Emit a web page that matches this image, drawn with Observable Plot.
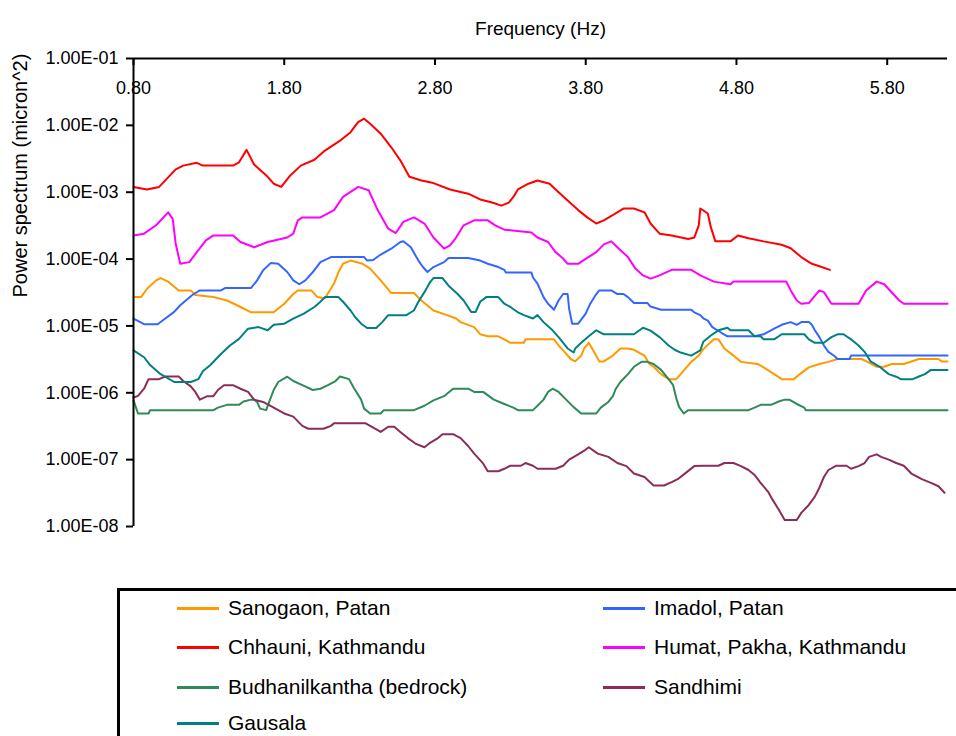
<!DOCTYPE html>
<html>
<head>
<meta charset="utf-8">
<script src="https://cdn.jsdelivr.net/npm/d3@7"></script>
<script src="https://cdn.jsdelivr.net/npm/@observablehq/plot@0.6"></script>
<style>
  html, body { margin: 0; padding: 0; background: #fff; overflow: hidden; }
  body { width: 956px; height: 736px; position: relative; font-family: "Liberation Sans", Arial, sans-serif; }
  #chart { position: absolute; left: 0; top: 0; }
  #legend { position: absolute; left: 117px; top: 588px; width: 900px; height: 200px; border: 3px solid #000; box-sizing: border-box; }
  .item { position: absolute; display: flex; align-items: center; height: 24px; font-size: 21px; color: #000; white-space: nowrap; }
  .sw { width: 42px; height: 3px; margin-right: 9px; }
</style>
</head>
<body>
<div id="chart"></div>
<div id="legend"></div>
<script>
// ---- data ----
const sites = ["Sanogaon, Patan", "Imadol, Patan", "Chhauni, Kathmandu", "Humat, Pakha, Kathmandu", "Budhanilkantha (bedrock)", "Sandhimi", "Gausala"];
const siteColors = ["#ff9900", "#3366ff", "#ff0000", "#ff00ff", "#2e8b57", "#8b2c5b", "#008080"];

const xTicks = [0.8, 1.8, 2.8, 3.8, 4.8, 5.8];
const xTickLabels = ["0.80", "1.80", "2.80", "3.80", "4.80", "5.80"];
const yTicks = [1e-8, 1e-7, 1e-6, 1e-5, 1e-4, 1e-3, 1e-2, 1e-1];
const yTickLabels = ["1.00E-08", "1.00E-07", "1.00E-06", "1.00E-05", "1.00E-04", "1.00E-03", "1.00E-02", "1.00E-01"];

// [frequency (Hz), power spectrum (micron^2)]
const sanogaon = [[0.80,2.7e-5],[0.85,2.7e-5],[0.89,3.6e-5],[0.95,4.8e-5],[0.98,5.2e-5],[1.03,4.6e-5],[1.10,3.4e-5],[1.18,3.4e-5],[1.21,2.9e-5],[1.33,2.7e-5],[1.42,2.4e-5],[1.51,1.92e-5],[1.58,1.6e-5],[1.73,1.6e-5],[1.80,2.15e-5],[1.86,3.0e-5],[1.89,3.4e-5],[1.98,3.4e-5],[2.02,2.7e-5],[2.07,2.6e-5],[2.13,4.3e-5],[2.16,6.4e-5],[2.19,8.5e-5],[2.24,9.5e-5],[2.32,8.5e-5],[2.37,7.2e-5],[2.44,4.8e-5],[2.51,3.1e-5],[2.66,3.1e-5],[2.71,2.4e-5],[2.79,1.7e-5],[2.88,1.45e-5],[2.94,1.29e-5],[2.97,1.14e-5],[3.06,9.6e-6],[3.10,7.5e-6],[3.15,7.0e-6],[3.22,7.0e-6],[3.26,6.3e-6],[3.30,5.6e-6],[3.39,5.6e-6],[3.40,6.3e-6],[3.59,6.3e-6],[3.62,5.1e-6],[3.66,4.1e-6],[3.70,3.2e-6],[3.73,2.95e-6],[3.77,3.6e-6],[3.79,4.6e-6],[3.82,5.6e-6],[3.85,4.3e-6],[3.89,2.95e-6],[3.92,2.95e-6],[3.98,3.6e-6],[4.03,4.6e-6],[4.08,4.6e-6],[4.12,4.4e-6],[4.19,3.6e-6],[4.22,2.75e-6],[4.25,2.45e-6],[4.30,1.9e-6],[4.35,1.6e-6],[4.40,1.6e-6],[4.43,1.9e-6],[4.50,2.9e-6],[4.55,3.6e-6],[4.58,4.5e-6],[4.65,6.3e-6],[4.68,6.3e-6],[4.72,4.6e-6],[4.78,3.6e-6],[4.83,2.9e-6],[4.94,2.7e-6],[4.98,2.4e-6],[5.05,1.9e-6],[5.10,1.6e-6],[5.18,1.6e-6],[5.22,1.9e-6],[5.28,2.4e-6],[5.35,2.7e-6],[5.41,2.9e-6],[5.47,3.2e-6],[5.63,3.2e-6],[5.67,2.9e-6],[5.73,2.45e-6],[5.78,2.45e-6],[5.83,2.7e-6],[5.91,2.7e-6],[6.01,3.2e-6],[6.14,3.2e-6],[6.16,2.95e-6],[6.20,2.95e-6]];

const imadol = [[0.80,1.29e-5],[0.87,1.06e-5],[0.96,1.06e-5],[1.00,1.24e-5],[1.07,1.62e-5],[1.11,2.04e-5],[1.19,2.9e-5],[1.24,3.4e-5],[1.38,3.4e-5],[1.41,3.7e-5],[1.58,3.7e-5],[1.62,4.8e-5],[1.66,6.8e-5],[1.71,8.7e-5],[1.76,8.5e-5],[1.82,6.4e-5],[1.86,4.8e-5],[1.90,4.2e-5],[1.94,4.8e-5],[1.99,6.4e-5],[2.04,9.0e-5],[2.11,1.07e-4],[2.33,1.07e-4],[2.35,9.5e-5],[2.39,9.7e-5],[2.44,1.17e-4],[2.51,1.43e-4],[2.57,1.8e-4],[2.59,1.85e-4],[2.64,1.5e-4],[2.69,9.5e-5],[2.72,7.6e-5],[2.75,6.4e-5],[2.79,7.6e-5],[2.86,9.0e-5],[2.89,1.04e-4],[3.02,1.04e-4],[3.10,9.5e-5],[3.15,8.5e-5],[3.22,7.6e-5],[3.26,6.9e-5],[3.27,6.3e-5],[3.44,6.3e-5],[3.45,5.3e-5],[3.48,4.3e-5],[3.52,2.7e-5],[3.55,2.15e-5],[3.59,1.75e-5],[3.62,2.4e-5],[3.65,3.0e-5],[3.68,3.0e-5],[3.69,1.8e-5],[3.71,1.08e-5],[3.75,1.08e-5],[3.80,1.53e-5],[3.83,2.15e-5],[3.87,3.0e-5],[3.89,3.4e-5],[3.97,3.4e-5],[4.01,3.0e-5],[4.05,3.0e-5],[4.08,2.7e-5],[4.12,2.2e-5],[4.21,2.2e-5],[4.23,1.95e-5],[4.30,1.75e-5],[4.50,1.75e-5],[4.52,1.6e-5],[4.56,1.45e-5],[4.58,1.3e-5],[4.61,1.2e-5],[4.64,9.6e-6],[4.70,7.9e-6],[4.74,7.0e-6],[4.92,7.0e-6],[4.98,7.5e-6],[5.05,9.1e-6],[5.10,1.04e-5],[5.16,1.14e-5],[5.20,1.04e-5],[5.23,1.14e-5],[5.28,1.14e-5],[5.30,1.04e-5],[5.32,8.6e-6],[5.35,6.8e-6],[5.38,5.1e-6],[5.41,4.1e-6],[5.45,3.55e-6],[5.47,3.2e-6],[5.55,3.2e-6],[5.56,3.6e-6],[6.20,3.6e-6]];

const chhauni = [[0.80,1.2e-3],[0.89,1.1e-3],[0.97,1.2e-3],[1.08,2.2e-3],[1.13,2.5e-3],[1.22,2.75e-3],[1.26,2.5e-3],[1.46,2.5e-3],[1.50,2.8e-3],[1.55,4.3e-3],[1.60,2.6e-3],[1.69,1.7e-3],[1.73,1.34e-3],[1.78,1.2e-3],[1.84,1.78e-3],[1.91,2.5e-3],[2.00,3.06e-3],[2.07,4.2e-3],[2.17,5.9e-3],[2.24,7.9e-3],[2.29,1.12e-2],[2.33,1.26e-2],[2.37,1.06e-2],[2.44,7.5e-3],[2.51,4.7e-3],[2.57,3.0e-3],[2.63,1.7e-3],[2.71,1.5e-3],[2.79,1.37e-3],[2.90,1.1e-3],[3.02,9.5e-4],[3.10,7.8e-4],[3.18,7.0e-4],[3.24,6.3e-4],[3.29,7.0e-4],[3.32,8.5e-4],[3.35,1.1e-3],[3.42,1.34e-3],[3.48,1.5e-3],[3.56,1.34e-3],[3.62,1.0e-3],[3.68,7.5e-4],[3.75,5.4e-4],[3.81,4.2e-4],[3.87,3.4e-4],[3.92,3.8e-4],[3.99,4.7e-4],[4.05,5.7e-4],[4.12,5.7e-4],[4.19,5.0e-4],[4.23,3.4e-4],[4.29,2.4e-4],[4.37,2.25e-4],[4.48,2.0e-4],[4.52,2.1e-4],[4.55,3.2e-4],[4.56,5.7e-4],[4.61,4.8e-4],[4.63,3.0e-4],[4.66,1.84e-4],[4.76,1.84e-4],[4.81,2.25e-4],[4.88,2.05e-4],[4.98,1.84e-4],[5.10,1.64e-4],[5.16,1.45e-4],[5.23,1.07e-4],[5.30,8.5e-5],[5.35,7.8e-5],[5.42,6.9e-5]];

const humat = [[0.80,2.26e-4],[0.87,2.4e-4],[0.95,3.2e-4],[1.03,5.0e-4],[1.06,4.0e-4],[1.08,1.7e-4],[1.11,8.5e-5],[1.17,9.0e-5],[1.22,1.27e-4],[1.28,1.9e-4],[1.33,2.26e-4],[1.46,2.26e-4],[1.51,1.8e-4],[1.60,1.5e-4],[1.69,1.8e-4],[1.82,2.1e-4],[1.86,2.4e-4],[1.89,3.8e-4],[1.92,4.2e-4],[2.04,4.2e-4],[2.13,5.4e-4],[2.19,8.5e-4],[2.29,1.2e-3],[2.36,1.07e-3],[2.42,5.4e-4],[2.49,2.85e-4],[2.54,2.45e-4],[2.59,3.6e-4],[2.66,4.2e-4],[2.73,3.4e-4],[2.79,2.1e-4],[2.86,1.43e-4],[2.90,1.6e-4],[2.94,2.1e-4],[2.99,3.2e-4],[3.06,3.8e-4],[3.15,3.8e-4],[3.20,3.2e-4],[3.26,2.75e-4],[3.44,2.5e-4],[3.48,2.1e-4],[3.55,1.8e-4],[3.60,1.27e-4],[3.65,1.02e-4],[3.68,8.5e-5],[3.75,8.5e-5],[3.81,1.04e-4],[3.87,1.27e-4],[3.92,1.66e-4],[3.97,1.84e-4],[4.01,1.5e-4],[4.08,1.07e-4],[4.13,7.2e-5],[4.18,5.7e-5],[4.23,5.1e-5],[4.29,5.7e-5],[4.37,6.9e-5],[4.50,6.9e-5],[4.56,5.7e-5],[4.65,4.6e-5],[4.76,4.2e-5],[4.78,4.6e-5],[5.13,4.6e-5],[5.16,3.4e-5],[5.20,2.4e-5],[5.23,2.15e-5],[5.28,2.2e-5],[5.35,3.4e-5],[5.38,3.2e-5],[5.43,2.15e-5],[5.61,2.15e-5],[5.66,3.4e-5],[5.73,4.6e-5],[5.78,4.2e-5],[5.84,3.0e-5],[5.88,2.4e-5],[5.91,2.15e-5],[6.20,2.15e-5]];

const budhanilkantha = [[0.80,7.7e-7],[0.83,4.9e-7],[0.90,4.9e-7],[0.91,5.5e-7],[1.33,5.5e-7],[1.36,6.0e-7],[1.42,6.6e-7],[1.50,6.6e-7],[1.53,7.4e-7],[1.58,7.9e-7],[1.60,7.9e-7],[1.62,7.3e-7],[1.64,5.8e-7],[1.68,5.5e-7],[1.70,7.3e-7],[1.73,1.1e-6],[1.76,1.45e-6],[1.82,1.74e-6],[1.86,1.5e-6],[1.92,1.3e-6],[1.99,1.1e-6],[2.04,1.15e-6],[2.09,1.3e-6],[2.14,1.5e-6],[2.17,1.75e-6],[2.23,1.6e-6],[2.26,1.2e-6],[2.31,7.9e-7],[2.33,5.8e-7],[2.37,4.9e-7],[2.44,4.9e-7],[2.46,5.5e-7],[2.66,5.5e-7],[2.73,6.4e-7],[2.79,7.7e-7],[2.86,8.9e-7],[2.92,1.15e-6],[3.02,1.15e-6],[3.06,1.03e-6],[3.12,1.03e-6],[3.19,7.9e-7],[3.26,6.8e-7],[3.32,6.0e-7],[3.35,5.5e-7],[3.45,5.5e-7],[3.48,6.4e-7],[3.52,7.9e-7],[3.55,1.03e-6],[3.58,1.15e-6],[3.62,1.03e-6],[3.67,7.9e-7],[3.72,6.1e-7],[3.77,4.9e-7],[3.87,4.9e-7],[3.90,6.0e-7],[3.95,7.3e-7],[3.98,8.9e-7],[4.00,1.15e-6],[4.03,1.45e-6],[4.08,1.9e-6],[4.12,2.45e-6],[4.17,2.9e-6],[4.21,2.9e-6],[4.25,2.7e-6],[4.30,2.2e-6],[4.35,1.6e-6],[4.38,1.3e-6],[4.40,8.4e-7],[4.42,6.1e-7],[4.45,4.9e-7],[4.48,5.5e-7],[4.88,5.5e-7],[4.92,6.0e-7],[4.96,6.6e-7],[5.03,6.6e-7],[5.08,7.4e-7],[5.12,7.9e-7],[5.15,7.9e-7],[5.20,6.8e-7],[5.25,6.0e-7],[5.26,5.5e-7],[6.20,5.5e-7]];

const sandhimi = [[0.80,8.5e-7],[0.83,9e-7],[0.87,1.15e-6],[0.90,1.6e-6],[0.97,1.6e-6],[1.01,1.75e-6],[1.10,1.75e-6],[1.13,1.5e-6],[1.18,1.25e-6],[1.21,1.03e-6],[1.24,7.9e-7],[1.29,8.9e-7],[1.33,8.9e-7],[1.36,1.1e-6],[1.40,1.3e-6],[1.46,1.3e-6],[1.51,1.15e-6],[1.56,1.03e-6],[1.60,7.9e-7],[1.66,7.3e-7],[1.73,6.0e-7],[1.80,4.9e-7],[1.86,4.4e-7],[1.92,3.2e-7],[1.96,2.9e-7],[2.06,2.9e-7],[2.11,3.2e-7],[2.13,3.5e-7],[2.34,3.5e-7],[2.37,3.2e-7],[2.44,2.6e-7],[2.49,3.1e-7],[2.53,3.1e-7],[2.57,2.6e-7],[2.62,2.1e-7],[2.67,1.74e-7],[2.73,1.53e-7],[2.77,1.8e-7],[2.82,2.1e-7],[2.85,2.4e-7],[2.92,2.4e-7],[2.97,2.1e-7],[3.02,1.6e-7],[3.06,1.23e-7],[3.08,1.1e-7],[3.12,8.7e-8],[3.15,6.7e-8],[3.22,6.7e-8],[3.26,7.3e-8],[3.30,8.1e-8],[3.37,8.1e-8],[3.40,8.9e-8],[3.45,8.1e-8],[3.48,7.3e-8],[3.60,7.3e-8],[3.65,8.1e-8],[3.69,1.0e-7],[3.75,1.2e-7],[3.79,1.36e-7],[3.82,1.53e-7],[3.88,1.23e-7],[3.95,1.1e-7],[4.01,8.9e-8],[4.07,8.0e-8],[4.12,6.2e-8],[4.19,5.5e-8],[4.25,4.1e-8],[4.32,4.1e-8],[4.37,4.6e-8],[4.41,5.1e-8],[4.47,6.5e-8],[4.52,8.0e-8],[4.58,8.1e-8],[4.68,8.1e-8],[4.72,8.9e-8],[4.78,8.9e-8],[4.83,8.0e-8],[4.88,7.0e-8],[4.92,5.9e-8],[4.96,4.5e-8],[5.01,3.3e-8],[5.04,2.5e-8],[5.08,1.8e-8],[5.12,1.25e-8],[5.20,1.25e-8],[5.23,1.6e-8],[5.28,2.1e-8],[5.32,2.8e-8],[5.35,3.8e-8],[5.38,5.5e-8],[5.41,7.0e-8],[5.46,8.1e-8],[5.53,8.1e-8],[5.56,7.3e-8],[5.61,8.0e-8],[5.65,8.9e-8],[5.68,1.1e-7],[5.73,1.2e-7],[5.76,1.1e-7],[5.81,1.0e-7],[5.86,8.9e-8],[5.91,8.1e-8],[5.96,6.2e-8],[6.03,5.1e-8],[6.09,4.5e-8],[6.14,4.0e-8],[6.18,3.2e-8]];

const gausala = [[0.80,4.3e-6],[0.87,3.4e-6],[0.91,2.6e-6],[0.98,1.9e-6],[1.07,1.45e-6],[1.18,1.45e-6],[1.23,1.6e-6],[1.26,2.1e-6],[1.31,2.6e-6],[1.38,3.8e-6],[1.44,5.1e-6],[1.50,6.4e-6],[1.56,9.1e-6],[1.63,9.6e-6],[1.69,8.6e-6],[1.73,1.04e-5],[1.80,1.08e-5],[1.86,1.29e-5],[1.93,1.53e-5],[2.00,1.92e-5],[2.04,2.3e-5],[2.07,2.7e-5],[2.16,2.7e-5],[2.19,2.3e-5],[2.24,1.7e-5],[2.27,1.36e-5],[2.31,1.08e-5],[2.35,9.3e-6],[2.41,9.3e-6],[2.45,1.14e-5],[2.49,1.45e-5],[2.61,1.45e-5],[2.66,1.7e-5],[2.69,2.3e-5],[2.73,3.2e-5],[2.77,4.6e-5],[2.79,5.2e-5],[2.85,5.2e-5],[2.89,4.0e-5],[2.95,3.0e-5],[2.99,2.4e-5],[3.04,1.62e-5],[3.07,1.62e-5],[3.10,2.3e-5],[3.14,2.7e-5],[3.22,2.7e-5],[3.26,2.15e-5],[3.30,1.92e-5],[3.35,1.6e-5],[3.39,1.45e-5],[3.45,1.29e-5],[3.48,1.45e-5],[3.52,1.14e-5],[3.58,8.6e-6],[3.62,6.8e-6],[3.68,4.6e-6],[3.72,4.0e-6],[3.73,4.6e-6],[3.77,5.6e-6],[3.82,7.0e-6],[3.87,8.6e-6],[3.92,7.5e-6],[4.12,7.5e-6],[4.18,9.4e-6],[4.23,8.5e-6],[4.29,6.8e-6],[4.35,5.1e-6],[4.39,4.4e-6],[4.43,4.0e-6],[4.50,3.6e-6],[4.56,4.3e-6],[4.58,5.8e-6],[4.63,7.2e-6],[4.68,8.6e-6],[4.74,9.4e-6],[4.76,8.6e-6],[4.88,8.6e-6],[4.92,7.0e-6],[4.96,7.0e-6],[4.98,6.3e-6],[5.05,6.3e-6],[5.10,7.5e-6],[5.25,7.5e-6],[5.28,6.3e-6],[5.32,5.6e-6],[5.38,5.6e-6],[5.43,6.8e-6],[5.47,7.5e-6],[5.51,7.5e-6],[5.56,6.3e-6],[5.61,5.1e-6],[5.65,4.1e-6],[5.69,2.95e-6],[5.75,2.45e-6],[5.81,1.9e-6],[5.86,1.74e-6],[5.89,1.6e-6],[5.97,1.6e-6],[6.01,1.75e-6],[6.05,1.9e-6],[6.09,2.2e-6],[6.20,2.2e-6]];

const seriesData = [sanogaon, imadol, chhauni, humat, budhanilkantha, sandhimi, gausala];
const xTitle = "Frequency (Hz)";
const yTitle = "Power spectrum (micron^2)";

// ---- build table ----
const rows = [];
seriesData.forEach((arr, i) => arr.forEach(([f, p]) => rows.push({site: sites[i], f, p})));

const W = 956, H = 540;
const mTop = 58, mBottom = 14;
const tickLen = 7;
const frameH = H - mTop - mBottom;

const chart = Plot.plot({
  width: W,
  height: H,
  marginLeft: 133,
  marginRight: 9,
  marginTop: mTop,
  marginBottom: mBottom,
  style: {fontFamily: '"Liberation Sans", Arial, sans-serif', background: "#fff", color: "#000"},
  x: {domain: [0.8, 6.2], axis: null},
  y: {type: "log", domain: [1e-8, 1e-1]},
  color: {domain: sites, range: siteColors},
  marks: [
    Plot.line(rows, {x: "f", y: "p", z: "site", stroke: "site", strokeWidth: 2, curve: "linear"}),
    Plot.ruleY([1e-1], {stroke: "#000", strokeWidth: 2}),
    Plot.ruleX([0.8], {stroke: "#000", strokeWidth: 2}),
    Plot.axisY({ticks: yTicks, tickSize: tickLen, tickPadding: 8, strokeWidth: 2, fontSize: 18,
      tickFormat: (d) => yTickLabels[yTicks.findIndex(t => Math.abs(Math.log10(t) - Math.log10(d)) < 1e-6)], label: null}),
    Plot.tickX(xTicks, {x: d => d, insetBottom: frameH - tickLen, stroke: "#000", strokeWidth: 2}),
    Plot.text(xTicks, {x: d => d, frameAnchor: "top", dy: 23, text: (d, i) => xTickLabels[i], fontSize: 18, fill: "#000"}),
    Plot.text([xTitle], {frameAnchor: "top", dy: -37, text: d => d, fontSize: 19, fill: "#000"}),
    Plot.text([yTitle], {frameAnchor: "left", dx: -113, dy: 5, rotate: -90, text: d => d, fontSize: 20, fill: "#000"})
  ]
});
document.getElementById("chart").appendChild(chart);

// ---- legend (HTML, below the SVG) ----
const legend = document.getElementById("legend");
const colLeft = [57, 483];
const rowTop = [5, 44, 84, 120];
sites.forEach((name, k) => {
  const col = k % 2, row = Math.floor(k / 2);
  const item = document.createElement("div");
  item.className = "item";
  item.style.left = colLeft[col] + "px";
  item.style.top = rowTop[row] + "px";
  const sw = document.createElement("span");
  sw.className = "sw";
  sw.style.background = siteColors[k];
  const tx = document.createElement("span");
  tx.textContent = name;
  item.appendChild(sw);
  item.appendChild(tx);
  legend.appendChild(item);
});
</script>
</body>
</html>
